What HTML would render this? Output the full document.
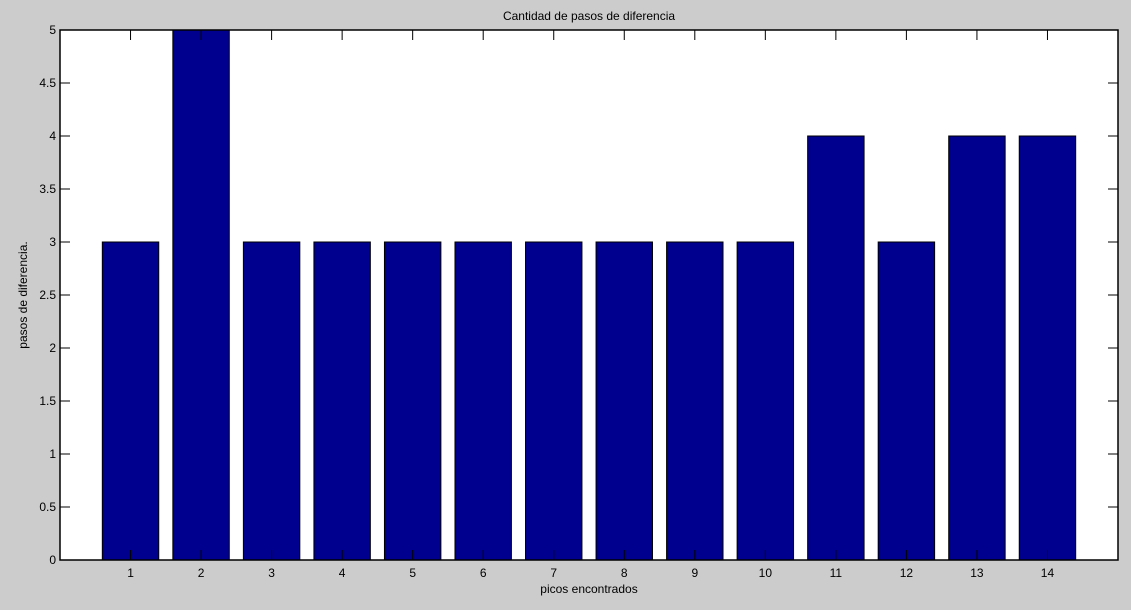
<!DOCTYPE html>
<html><head><meta charset="utf-8"><style>
body{margin:0;background:#cccccc;}
svg{display:block;font-family:"Liberation Sans",sans-serif;}
</style></head><body>
<svg id="chart" width="1131" height="610">
<rect x="0" y="0" width="1131" height="610" fill="#cccccc"/>
<rect x="60" y="30" width="1058" height="530" fill="#ffffff"/>
<g id="bars"></g>
<g id="axes"></g>
<text x="589" y="20" font-size="12" text-anchor="middle">Cantidad de pasos de diferencia</text>
<text x="589" y="593" font-size="12" text-anchor="middle">picos encontrados</text>
<text transform="translate(27,295) rotate(-90)" font-size="12" text-anchor="middle">pasos de diferencia.</text>
</svg>
<script>
const categories=[1,2,3,4,5,6,7,8,9,10,11,12,13,14];
const values=[3,5,3,3,3,3,3,3,3,3,4,3,4,4];
const yTicks=[0,0.5,1,1.5,2,2.5,3,3.5,4,4.5,5];
const L=60,R=1118,T=30,B=560;
const xs=v=>L+(v/15)*(R-L);
const ys=v=>B-(v/5)*(B-T);
const NS="http://www.w3.org/2000/svg";
const bars=document.getElementById('bars'),axes=document.getElementById('axes');
const bw=0.8*(R-L)/15;
function mk(tag,attrs,parent){const e=document.createElementNS(NS,tag);for(const k in attrs)e.setAttribute(k,attrs[k]);parent.appendChild(e);return e;}
categories.forEach((c,i)=>{
  const r=mk('rect',{x:xs(c)-bw/2,y:ys(values[i]),width:bw,height:ys(0)-ys(values[i]),fill:'#00008f',stroke:'#000','stroke-width':1},bars);
  
  
  const tk=mk('line',{x1:xs(c),x2:xs(c),y1:B,y2:B-10,stroke:'#000'},axes);
  
  
  const tk2=mk('line',{x1:xs(c),x2:xs(c),y1:T,y2:T+10,stroke:'#000'},axes);
  
  
  const t=mk('text',{x:xs(c),y:B+17,'font-size':12,'text-anchor':'middle'},axes);
  t.textContent=c;
  
  
});
yTicks.forEach(v=>{
  const a=mk('line',{x1:L,x2:L+10,y1:ys(v),y2:ys(v),stroke:'#000'},axes);
  
  
  const b=mk('line',{x1:R,x2:R-10,y1:ys(v),y2:ys(v),stroke:'#000'},axes);
  
  
  const t=mk('text',{x:L-4,y:ys(v)+4,'font-size':12,'text-anchor':'end'},axes);
  t.textContent=v;
  
  
});
const box=mk('rect',{x:L,y:T,width:R-L,height:B-T,fill:'none',stroke:'#000','stroke-width':1.5},axes);


</script>
</body></html>
